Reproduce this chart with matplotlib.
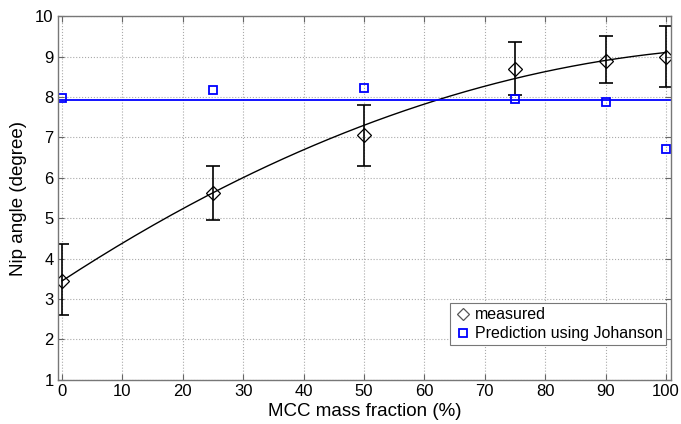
import numpy as np
import matplotlib
matplotlib.use("Agg")
import matplotlib.pyplot as plt

plt.rcParams['font.family'] = ['Liberation Sans', 'DejaVu Sans']

# measured nip angle with error bars
mcc = [0, 25, 50, 75, 90, 100]
nip_measured = [3.45, 5.62, 7.05, 8.70, 8.90, 9.00]
err_low = [2.60, 4.95, 6.30, 8.05, 8.35, 8.25]
err_high = [4.35, 6.30, 7.80, 9.35, 9.50, 9.75]

# Johanson prediction
nip_johanson = [7.97, 8.17, 8.22, 7.95, 7.88, 6.72]
johanson_mean = 7.92

# quadratic trend through the measured points (c0, c1, c2)
fit_coef = [3.45, 0.0975, -0.00041]

fig = plt.figure(figsize=(6.81, 4.24), dpi=100)
ax = fig.add_axes([0.085, 0.104, 0.9, 0.858])

xs = np.linspace(0, 100, 200)
ax.plot(xs, fit_coef[0] + fit_coef[1] * xs + fit_coef[2] * xs**2, color='black', lw=1)
ax.axhline(johanson_mean, color='#0000ff', lw=1.3)

yerr = [np.array(nip_measured) - np.array(err_low), np.array(err_high) - np.array(nip_measured)]
ax.errorbar(mcc, nip_measured, yerr=yerr, fmt='none', ecolor='black', elinewidth=1.2,
            capsize=5, capthick=1.2)
ax.plot(mcc, nip_measured, ls='none', marker='D', ms=7, mfc='none', mec='black', mew=0.9)
ax.plot(mcc, nip_johanson, ls='none', marker='s', ms=6, mfc='none', mec='#0000ff', mew=1.3)

# legend proxies
h1, = ax.plot([], [], ls='none', marker='D', ms=6, mfc='none', mec='#555555', mew=0.9, label='measured')
h2, = ax.plot([], [], ls='none', marker='s', ms=5.5, mfc='none', mec='#0000ff', mew=1.3,
              label='Prediction using Johanson')
leg = ax.legend(handles=[h1, h2], loc='lower right', bbox_to_anchor=(0.993, 0.095),
                fontsize=11.5, fancybox=False, framealpha=1, edgecolor='#777777',
                handletextpad=0.2, handlelength=1.1, borderpad=0.25, labelspacing=0.25,
                borderaxespad=0)
leg.get_frame().set_linewidth(0.8)

ax.set_xlim(-0.7, 100.8)
ax.set_ylim(1, 10)
ax.set_xticks(range(0, 101, 10))
ax.set_yticks(range(1, 11))
ax.grid(True, color='#aaaaaa', ls=':', lw=0.8)
ax.tick_params(direction='in', top=True, right=True, labelsize=12, length=4, color='#666666',
               pad=3)
for s in ax.spines.values():
    s.set_color('#777777')
    s.set_linewidth(1)

ax.set_xlabel('MCC mass fraction (%)', fontsize=13.5, labelpad=3)
ax.set_ylabel('Nip angle (degree)', fontsize=13.5, labelpad=6)

fig.savefig('out.png', dpi=100)
